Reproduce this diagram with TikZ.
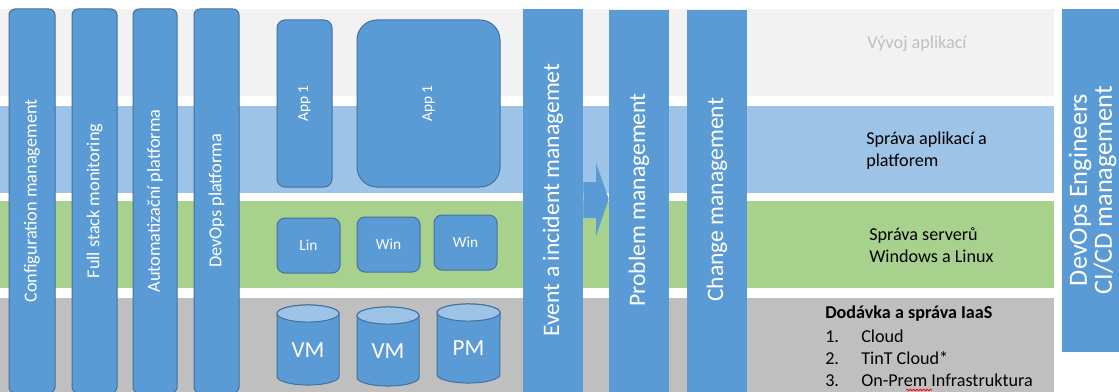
\documentclass[tikz,border=0pt]{standalone}
\usepackage{fontspec}
\setmainfont{Carlito}
\usetikzlibrary{decorations.pathmorphing}
\definecolor{colblue}{HTML}{5B9BD5}
\definecolor{colborder}{HTML}{41719C}
\definecolor{bandgray}{HTML}{F2F2F2}
\definecolor{bandblue}{HTML}{9DC3E6}
\definecolor{bandgreen}{HTML}{A9D18E}
\definecolor{banddark}{HTML}{BFBFBF}
\definecolor{fadedtext}{HTML}{BFBFBF}
\tikzset{
  colbox/.style={draw=colborder, line width=0.75pt, fill=colblue, rounded corners=4.5pt, inner sep=0pt, minimum height=288pt},
  collabel/.style={text=white, rotate=90, inner sep=0pt, font=\fontsize{13.7}{16}\selectfont},
  bigcol/.style={fill=colblue, inner sep=0pt, minimum width=45pt, minimum height=288pt},
  biglabel/.style={text=white, rotate=90, inner sep=0pt, font=\fontsize{17.7}{21}\selectfont},
  appbox/.style={draw=colborder, line width=0.75pt, fill=colblue, inner sep=0pt},
  smalltext/.style={text=white, inner sep=0pt, font=\fontsize{11.5}{14}\selectfont},
  cylbody/.style={draw=colborder, line width=0.75pt, fill=colblue},
  cyltop/.style={draw=colborder, line width=0.75pt, fill=bandblue},
  cyltext/.style={text=white, inner sep=0pt, font=\fontsize{17.3}{20}\selectfont},
  bandtext/.style={inner sep=0pt, align=left, font=\fontsize{13.6}{16.5}\selectfont},
}
\begin{document}
\begin{tikzpicture}[x=0.75pt, y=-0.75pt]
\useasboundingbox (0,0) rectangle (1119,392);
\fill[white] (0,0) rectangle (1119,392);
% bands
\fill[bandgray] (0,9) rectangle (1054,96);
\fill[bandblue] (0,106) rectangle (1054,193);
\fill[bandgreen] (0,201) rectangle (1054,288);
\fill[banddark] (0,298) rectangle (1054,400);
% left columns
\node[colbox, minimum width=34.5pt] (cfg) at (32,201) {};
\node[collabel] (cfgl) at (cfg) {Configuration management};
\node[colbox, minimum width=33.75pt] (fsm) at (94.5,201) {};
\node[collabel] (fsml) at (fsm) {Full stack monitoring};
\node[colbox, minimum width=33pt] (aut) at (155,201) {};
\node[collabel] (autl) at (aut) {Automatizační platforma};
\node[colbox, minimum width=33.75pt] (dop) at (216.5,201) {};
\node[collabel] (dopl) at (dop) {DevOps platforma};
% apps
\node[appbox, rounded corners=6pt, minimum width=41.25pt, minimum height=125.25pt] (app1) at (304.5,103.5) {};
\node[smalltext, rotate=90] (app1l) at (app1) {App 1};
\node[appbox, rounded corners=15pt, minimum width=107.25pt, minimum height=125.25pt] (app2) at (428.5,103.5) {};
\node[smalltext, rotate=90] (app2l) at (app2) {App 1};
% servers
\node[appbox, rounded corners=6pt, minimum width=47.25pt, minimum height=41.25pt] (lin) at (308.5,245.5) {};
\node[smalltext] (linl) at (lin) {Lin};
\node[appbox, rounded corners=6pt, minimum width=47.25pt, minimum height=41.25pt] (win1) at (388.5,244.5) {};
\node[smalltext] (win1l) at (win1) {Win};
\node[appbox, rounded corners=6pt, minimum width=47.25pt, minimum height=41.25pt] (win2) at (465.5,242.5) {};
\node[smalltext] (win2l) at (win2) {Win};
% cylinders
\filldraw[cylbody] (277,313.5) -- (277,376.5) arc[start angle=180, end angle=360, x radius=23.25pt, y radius=6.4pt] -- (339,313.5) arc[start angle=0, end angle=180, x radius=23.25pt, y radius=6.4pt] -- cycle;
\filldraw[cyltop] (308,313.5) ellipse[x radius=23.25pt, y radius=6.4pt];
\node[cyltext] (vm1) at (308,350) {VM};
\filldraw[cylbody] (357,315.5) -- (357,377.5) arc[start angle=180, end angle=360, x radius=23.25pt, y radius=6.4pt] -- (419,315.5) arc[start angle=0, end angle=180, x radius=23.25pt, y radius=6.4pt] -- cycle;
\filldraw[cyltop] (388,315.5) ellipse[x radius=23.25pt, y radius=6.4pt];
\node[cyltext] (vm2) at (388,351) {VM};
\filldraw[cylbody] (437,312.5) -- (437,374.5) arc[start angle=180, end angle=360, x radius=23.6pt, y radius=6.4pt] -- (500,312.5) arc[start angle=0, end angle=180, x radius=23.6pt, y radius=6.4pt] -- cycle;
\filldraw[cyltop] (468.5,312.5) ellipse[x radius=23.6pt, y radius=6.4pt];
\node[cyltext] (pm1) at (468.5,348) {PM};
% big columns
\node[bigcol] (ev) at (553,201) {};
\node[biglabel] (evl) at (553,200) {Event a incident managemet};
\node[bigcol] (pr) at (639,202) {};
\node[biglabel] (prl) at (639,200) {Problem management};
\node[bigcol] (ch) at (717,202) {};
\node[biglabel] (chl) at (717,200) {Change management};
% block arrow from event to problem
\fill[colblue] (ev.east |- 0,182) -- (596,182) -- (596,163) -- (pr.west |- 0,199) -- (596,236) -- (596,218) -- (ev.east |- 0,218) -- cycle;
% right column
\node[fill=colblue, inner sep=0pt, minimum width=51pt, minimum height=257.25pt] (dev) at (1096,180.5) {};
\node[text=white, rotate=90, inner sep=0pt, align=center, font=\fontsize{19.7}{18.75}\selectfont] (devl) at (1092.5,190) {DevOps Engineers\\CI/CD management};
% band texts
\node[bandtext, text=fadedtext] (vyvoj) at (917,44) {Vývoj aplikací};
\node[bandtext, anchor=west] (sprapp) at (866,151) {Správa aplikací a\\platforem};
\node[bandtext, anchor=west] (sprsrv) at (869,245) {Správa serverů\\Windows a Linux};
\node[bandtext, anchor=base west, font=\bfseries\fontsize{13.6}{16.5}\selectfont] (iaas) at (825,318) {Dodávka a správa IaaS};
\node[bandtext, anchor=base west] (n1) at (825,342) {1.};
\node[bandtext, anchor=base west] (t1) at (861,342) {Cloud};
\node[bandtext, anchor=base west] (n2) at (825,364) {2.};
\node[bandtext, anchor=base west] (t2) at (861,364) {TinT Cloud*};
\node[bandtext, anchor=base west] (n3) at (825,386) {3.};
\node[bandtext, anchor=base west] (t3) at (861,386) {On-Prem Infrastruktura};
\draw[red, line width=0.6pt, decorate, decoration={snake, amplitude=0.6pt, segment length=2.5pt}] (906,390) -- (932,390);
\end{tikzpicture}
\end{document}
